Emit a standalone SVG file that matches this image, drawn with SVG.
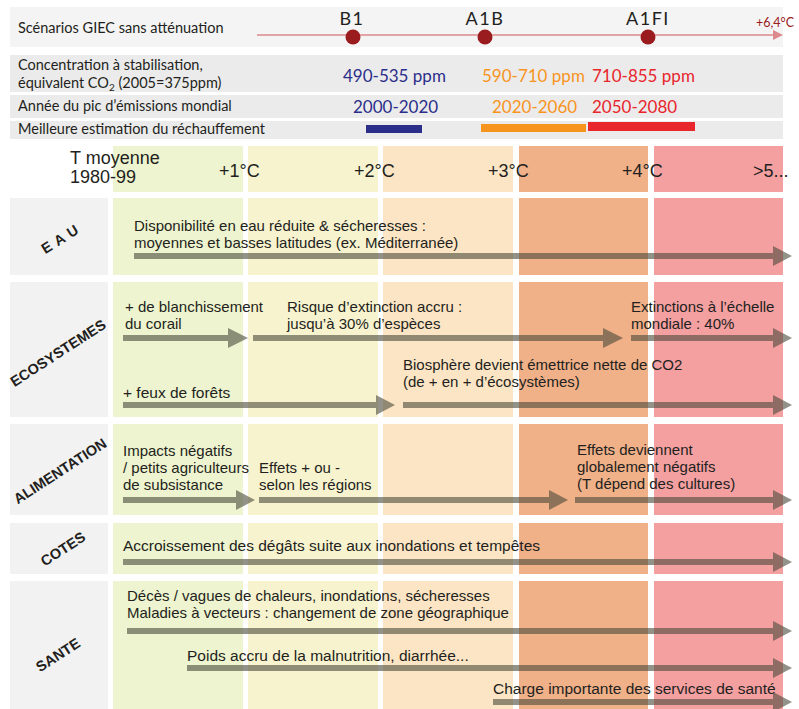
<svg xmlns="http://www.w3.org/2000/svg" width="799" height="709" viewBox="0 0 799 709">
<defs>
<style>
.hd{font-family:Lato,"Open Sans","Liberation Sans",sans-serif;font-size:14.5px;fill:#231f20}
.sc{font-family:Lato,"Open Sans","Liberation Sans",sans-serif;font-size:18px;fill:#231f20;letter-spacing:1.5px;text-anchor:middle}
.val{font-family:Lato,"Open Sans","Liberation Sans",sans-serif;font-size:17px}
.nv{fill:#2b2f8a}.or{fill:#f7941d}.rd{fill:#e8262b}
.band{fill:#ebebeb}
.t{font-family:"Liberation Sans",Arial,sans-serif;font-size:15.5px;fill:#231f20}
.m{font-family:"Liberation Sans",Arial,sans-serif;font-size:15px;fill:#231f20}
.tp{font-family:"Liberation Sans",Arial,sans-serif;font-size:18px;fill:#231f20}
.lab{font-family:"Liberation Sans",Arial,sans-serif;font-size:14.5px;font-weight:bold;fill:#231f20;text-anchor:middle}
.lbox{fill:#f2f2f2}
.c1{fill:#eef4cf}.c2{fill:#f8f3cf}.c3{fill:#fce5c4}.c4{fill:#f0b088}.c5{fill:#f4a0a0}
.ar{fill:#4a4a3a;opacity:0.6}
</style>
</defs>

<g id="header">
<rect x="10" y="7" width="773" height="40" fill="#f4f4f4"/>
<text class="hd" x="18" y="33">Scénarios GIEC sans atténuation</text>
<line x1="257" y1="35" x2="775" y2="35" stroke="#dc8a8e" stroke-width="1.6"/>
<polygon points="773,30 783,35 773,40" fill="#dc8a8e"/>
<circle cx="353" cy="37" r="7.5" fill="#9b1c1f"/>
<circle cx="485" cy="37" r="7.5" fill="#9b1c1f"/>
<circle cx="648" cy="37" r="7.5" fill="#9b1c1f"/>
<text class="sc" x="352" y="25">B1</text>
<text class="sc" x="485" y="25">A1B</text>
<text class="sc" x="648" y="25">A1FI</text>
<text x="775" y="27" font-family="Lato,'Open Sans',sans-serif" font-size="12.5px" fill="#9b1c1f" text-anchor="middle">+6,4°C</text>

<rect class="band" x="10" y="55" width="773" height="37"/>
<rect class="band" x="10" y="95" width="773" height="23"/>
<rect class="band" x="10" y="121" width="773" height="18"/>
<text class="hd" x="18" y="70">Concentration à stabilisation,<tspan x="18" dy="18">équivalent CO</tspan><tspan font-size="10px" dy="3">2</tspan><tspan dy="-3"> (2005=375ppm)</tspan></text>
<text class="hd" x="18" y="111">Année du pic d’émissions mondial</text>
<text class="hd" x="18" y="134">Meilleure estimation du réchauffement</text>

<text class="val nv" x="343" y="82">490-535 ppm</text>
<text class="val or" x="482" y="82">590-710 ppm</text>
<text class="val rd" x="592" y="82">710-855 ppm</text>
<text class="val nv" x="353" y="113">2000-2020</text>
<text class="val or" x="492" y="113">2020-2060</text>
<text class="val rd" x="592" y="113">2050-2080</text>
<rect x="366" y="125" width="56" height="8" fill="#2b2f8a"/>
<rect x="481" y="124" width="105" height="8" fill="#f7941d"/>
<rect x="588" y="122" width="107" height="9" fill="#e8262b"/>
</g>

<g id="columns">
<rect class="c1" x="113" y="146" width="130" height="46"/>
<rect class="c2" x="248" y="146" width="130" height="46"/>
<rect class="c3" x="383" y="146" width="130" height="46"/>
<rect class="c4" x="519" y="146" width="129" height="46"/>
<rect class="c5" x="654" y="146" width="129" height="46"/>

<rect class="c1" x="113" y="198" width="130" height="77"/>
<rect class="c2" x="248" y="198" width="130" height="77"/>
<rect class="c3" x="383" y="198" width="130" height="77"/>
<rect class="c4" x="519" y="198" width="129" height="77"/>
<rect class="c5" x="654" y="198" width="129" height="77"/>

<rect class="c1" x="113" y="282" width="130" height="135"/>
<rect class="c2" x="248" y="282" width="130" height="135"/>
<rect class="c3" x="383" y="282" width="130" height="135"/>
<rect class="c4" x="519" y="282" width="129" height="135"/>
<rect class="c5" x="654" y="282" width="129" height="135"/>

<rect class="c1" x="113" y="424" width="130" height="91"/>
<rect class="c2" x="248" y="424" width="130" height="91"/>
<rect class="c3" x="383" y="424" width="130" height="91"/>
<rect class="c4" x="519" y="424" width="129" height="91"/>
<rect class="c5" x="654" y="424" width="129" height="91"/>

<rect class="c1" x="113" y="523" width="130" height="51"/>
<rect class="c2" x="248" y="523" width="130" height="51"/>
<rect class="c3" x="383" y="523" width="130" height="51"/>
<rect class="c4" x="519" y="523" width="129" height="51"/>
<rect class="c5" x="654" y="523" width="129" height="51"/>

<rect class="c1" x="113" y="581" width="130" height="128"/>
<rect class="c2" x="248" y="581" width="130" height="128"/>
<rect class="c3" x="383" y="581" width="130" height="128"/>
<rect class="c4" x="519" y="581" width="129" height="128"/>
<rect class="c5" x="654" y="581" width="129" height="128"/>
</g>

<g id="temperature">
<text class="tp" x="70" y="164">T moyenne<tspan x="70" dy="19">1980-99</tspan></text>
<text class="tp" x="219" y="177">+1°C</text>
<text class="tp" x="354" y="177">+2°C</text>
<text class="tp" x="488" y="177">+3°C</text>
<text class="tp" x="622" y="177">+4°C</text>
<text class="tp" x="753" y="177">&gt;5...</text>
</g>

<g id="eau">
<rect class="lbox" x="10" y="198" width="98" height="77"/>
<text class="lab" x="62" y="243" font-size="15px" letter-spacing="5" transform="rotate(-32 62 238)">EAU</text>
<text class="m" x="134" y="231">Disponibilité en eau réduite &amp; sécheresses :<tspan x="134" dy="17">moyennes et basses latitudes (ex. Méditerranée)</tspan></text>
</g>

<g id="ecosystemes">
<rect class="lbox" x="10" y="282" width="98" height="135"/>
<text class="lab" x="58" y="358" transform="rotate(-33 58 353)">ECOSYSTEMES</text>
<text class="m" x="125" y="312">+ de blanchissement<tspan x="125" dy="17">du corail</tspan></text>
<text class="m" x="287" y="312">Risque d’extinction accru :<tspan x="287" dy="17">jusqu’à 30% d’espèces</tspan></text>
<text class="m" x="631" y="312">Extinctions à l’échelle<tspan x="631" dy="17">mondiale : 40%</tspan></text>
<text class="t" x="123" y="398">+ feux de forêts</text>
<text class="m" x="403" y="370">Biosphère devient émettrice nette de CO2<tspan x="403" dy="17">(de + en + d’écosystèmes)</tspan></text>
</g>

<g id="alimentation">
<rect class="lbox" x="10" y="424" width="98" height="91"/>
<text class="lab" x="60" y="476" transform="rotate(-33 60 471)">ALIMENTATION</text>
<text class="m" x="123" y="456">Impacts négatifs<tspan x="123" dy="17">/ petits agriculteurs</tspan><tspan x="123" dy="17">de subsistance</tspan></text>
<text class="m" x="259" y="473">Effets + ou -<tspan x="259" dy="17">selon les régions</tspan></text>
<text class="m" x="577" y="455">Effets deviennent<tspan x="577" dy="17">globalement négatifs</tspan><tspan x="577" dy="17">(T dépend des cultures)</tspan></text>
</g>

<g id="cotes">
<rect class="lbox" x="10" y="523" width="98" height="51"/>
<text class="lab" x="63" y="554" transform="rotate(-33 63 549)">COTES</text>
<text class="t" x="123" y="551">Accroissement des dégâts suite aux inondations et tempêtes</text>
</g>

<g id="sante">
<rect class="lbox" x="10" y="581" width="98" height="128"/>
<text class="lab" x="58" y="660" transform="rotate(-33 58 655)">SANTE</text>
<text class="m" x="127" y="601">Décès / vagues de chaleurs, inondations, sécheresses<tspan x="127" dy="17">Maladies à vecteurs : changement de zone géographique</tspan></text>
<text class="t" x="187" y="661">Poids accru de la malnutrition, diarrhée...</text>
<text class="t" x="493" y="694">Charge importante des services de santé</text>
</g>

<g id="connectors">
<polygon class="ar" points="134,253 773,253 773,246 792,256 773,266 773,259 134,259"/>
<polygon class="ar" points="123,335 228,335 228,328 248,338 228,348 228,341 123,341"/>
<polygon class="ar" points="253,335 603,335 603,328 623,338 603,348 603,341 253,341"/>
<polygon class="ar" points="631,335 773,335 773,328 792,338 773,348 773,341 631,341"/>
<polygon class="ar" points="123,402 376,402 376,395 395,405 376,415 376,408 123,408"/>
<polygon class="ar" points="403,402 773,402 773,395 792,405 773,415 773,408 403,408"/>
<polygon class="ar" points="123,497 236,497 236,490 255,500 236,510 236,503 123,503"/>
<polygon class="ar" points="259,497 549,497 549,490 568,500 549,510 549,503 259,503"/>
<polygon class="ar" points="575,497 773,497 773,490 792,500 773,510 773,503 575,503"/>
<polygon class="ar" points="123,559 773,559 773,552 792,562 773,572 773,565 123,565"/>
<polygon class="ar" points="127,628 773,628 773,621 792,631 773,641 773,634 127,634"/>
<polygon class="ar" points="187,665 773,665 773,658 792,668 773,678 773,671 187,671"/>
<polygon class="ar" points="493,699 773,699 773,692 792,702 773,712 773,705 493,705"/>
</g>
</svg>
